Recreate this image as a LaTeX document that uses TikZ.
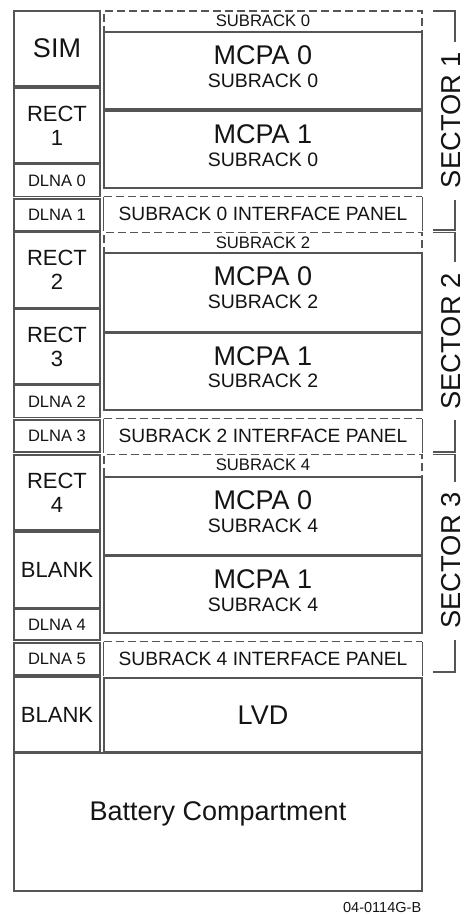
\documentclass[tikz,border=0pt]{standalone}
\usepackage{fontspec}
\setmainfont{Liberation Sans}
\definecolor{ln}{RGB}{85,85,85}
\definecolor{tx}{RGB}{20,20,20}
\tikzset{
  boxst/.style={draw=ln, line width=1.1pt, fill=white, inner sep=0pt, align=center, text=tx},
  grpst/.style={draw=ln, line width=1.1pt, dash pattern=on 6pt off 3pt, inner sep=0pt},
  panst/.style={inner sep=0pt, text=tx, font=\fontsize{14.4}{16}\selectfont},
  solidst/.style={draw=ln, line width=1.1pt},
  dashst/.style={draw=ln, line width=1.1pt, dash pattern=on 6pt off 3pt},
  lbl/.style={inner sep=0pt, text=tx},
  fbig/.style={font=\fontsize{20.25}{22}\selectfont},
  fmid/.style={font=\fontsize{16.5}{18}\selectfont},
  fsmall/.style={font=\fontsize{12.4}{14}\selectfont},
  fsub/.style={font=\fontsize{14.6}{16}\selectfont},
  ftop/.style={font=\fontsize{12.5}{14}\selectfont},
  fsec/.style={font=\fontsize{20.5}{24}\selectfont},
}
% #1 options, #2 name, #3 x1, #4 y1, #5 x2, #6 y2, #7 text
\newcommand\bx[7][]{\node[boxst, minimum width={(#5-#3)*0.75pt}, minimum height={(#6-#4)*0.75pt}, #1] (#2) at ({(#3+#5)/2},{(#4+#6)/2}) {#7};}
\begin{document}
\begin{tikzpicture}[x=0.75pt,y=-0.75pt]
\useasboundingbox (0,0) rectangle (467,915);

% ---------- left column ----------
\bx[fbig]{sim}{14}{11}{100}{86}{SIM}
\bx[fmid]{r1}{14}{88}{100}{163}{RECT\\1}
\bx[fsmall]{d0}{14}{164.5}{100}{196.5}{DLNA 0}
\bx[fsmall]{d1}{14}{199}{100}{231}{DLNA 1}
\bx[fmid]{r2}{14}{232.5}{100}{308}{RECT\\2}
\bx[fmid]{r3}{14}{309.5}{100}{384}{RECT\\3}
\bx[fsmall]{d2}{14}{385.5}{100}{417.5}{DLNA 2}
\bx[fsmall]{d3}{14}{420}{100}{452}{DLNA 3}
\bx[fmid]{r4}{14}{455}{100}{530}{RECT\\4}
\bx[fmid]{b1}{14}{532}{100}{608}{BLANK}
\bx[fsmall]{d4}{14}{609.5}{100}{640}{DLNA 4}
\bx[fsmall]{d5}{14}{643}{100}{675}{DLNA 5}
\bx[fmid]{b2}{14}{677}{100}{752}{BLANK}

% ---------- subrack 0 ----------
\bx[grpst, fill=none]{g0}{104}{11}{422}{188}{}
\node[lbl, ftop] (g0l) at (263,21) {SUBRACK 0};
\bx{m00}{104}{32}{422}{109}{}
\node[lbl, fbig] (m00a) at (263,55) {MCPA 0};
\node[lbl, fsub] (m00b) at (263,81) {SUBRACK 0};
\bx{m01}{104}{111}{422}{188}{}
\node[lbl, fbig] (m01a) at (263,134) {MCPA 1};
\node[lbl, fsub] (m01b) at (263,159.5) {SUBRACK 0};
\node[panst, minimum width={318*0.75pt}, minimum height={34*0.75pt}] (p0) at (263,214) {SUBRACK 0 INTERFACE PANEL};
\draw[solidst] (p0.north west) -- (p0.south west) (p0.north east) -- (p0.south east);
\draw[dashst] (p0.north west) -- (p0.north east);

% ---------- subrack 2 ----------
\bx[grpst, fill=none]{g2}{104}{232.5}{422}{410}{}
\node[lbl, ftop] (g2l) at (263,243) {SUBRACK 2};
\bx{m20}{104}{253}{422}{332}{}
\node[lbl, fbig] (m20a) at (263,276.5) {MCPA 0};
\node[lbl, fsub] (m20b) at (263,302) {SUBRACK 2};
\bx{m21}{104}{333.5}{422}{410}{}
\node[lbl, fbig] (m21a) at (263,356) {MCPA 1};
\node[lbl, fsub] (m21b) at (263,381) {SUBRACK 2};
\node[panst, minimum width={318*0.75pt}, minimum height={34*0.75pt}] (p2) at (263,436) {SUBRACK 2 INTERFACE PANEL};
\draw[solidst] (p2.north west) -- (p2.south west) (p2.north east) -- (p2.south east);
\draw[dashst] (p2.north west) -- (p2.north east);

% ---------- subrack 4 ----------
\bx[grpst, fill=none]{g4}{104}{454.5}{422}{633}{}
\node[lbl, ftop] (g4l) at (263,465) {SUBRACK 4};
\bx{m40}{104}{477}{422}{555}{}
\node[lbl, fbig] (m40a) at (263,500) {MCPA 0};
\node[lbl, fsub] (m40b) at (263,526) {SUBRACK 4};
\bx{m41}{104}{556.5}{422}{633}{}
\node[lbl, fbig] (m41a) at (263,579) {MCPA 1};
\node[lbl, fsub] (m41b) at (263,604.5) {SUBRACK 4};
\node[panst, minimum width={318*0.75pt}, minimum height={34*0.75pt}] (p4) at (263,659) {SUBRACK 4 INTERFACE PANEL};
\draw[solidst] (p4.north west) -- (p4.south west) (p4.north east) -- (p4.south east);
\draw[dashst] (p4.north west) -- (p4.north east);

% ---------- LVD and battery ----------
\bx[fbig]{lvd}{104}{678}{422}{752}{LVD}
\bx{bat}{14}{753}{422}{891}{}
\node[lbl, fbig, anchor=base] (batt) at (218,820) {Battery Compartment};

% ---------- sector brackets ----------
\node[lbl, fsec, rotate=90] (s1) at (451,120) {SECTOR 1};
\coordinate (s1a) at (433,11); \coordinate (s1b) at (455,42);
\coordinate (s1c) at (455,200); \coordinate (s1d) at (433,230);
\draw[solidst] (s1a) -| (s1b);
\draw[solidst] (s1c) |- (s1d);

\node[lbl, fsec, rotate=90] (s2) at (451,341.5) {SECTOR 2};
\coordinate (s2a) at (433,232.5); \coordinate (s2b) at (455,262);
\coordinate (s2c) at (455,420); \coordinate (s2d) at (433,452);
\draw[solidst] (s2a) -| (s2b);
\draw[solidst] (s2c) |- (s2d);

\node[lbl, fsec, rotate=90] (s3) at (451,560.5) {SECTOR 3};
\coordinate (s3a) at (433,454.5); \coordinate (s3b) at (455,482);
\coordinate (s3c) at (455,640); \coordinate (s3d) at (433,672);
\draw[solidst] (s3a) -| (s3b);
\draw[solidst] (s3c) |- (s3d);

% ---------- figure number ----------
\node[lbl, font=\fontsize{10.9}{12}\selectfont, anchor=base east] (fig) at (421.5,912) {04-0114G-B};
\end{tikzpicture}
\end{document}
